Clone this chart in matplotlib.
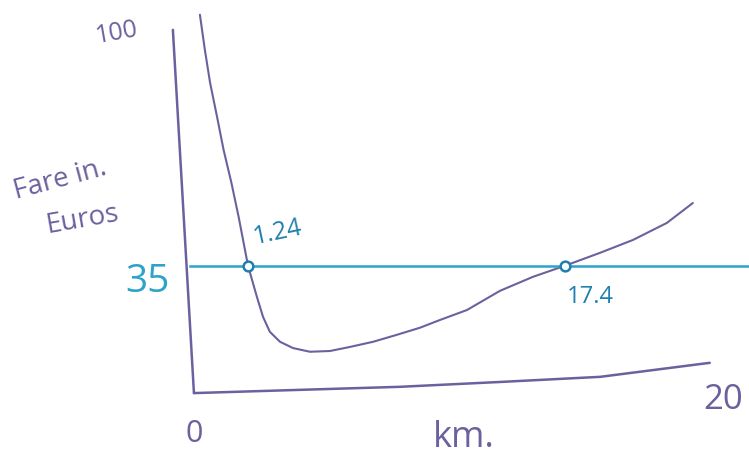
import matplotlib
matplotlib.use("Agg")
import matplotlib.pyplot as plt

# Hand-drawn sketch data (km, fare in euros)
curve_km = [0.19, 0.38, 0.58, 0.85, 1.10, 1.40, 1.68, 2.04, 2.38, 2.62, 2.88,
            3.27, 3.77, 4.42, 5.19, 5.96, 6.85, 7.77, 8.65, 9.42, 10.46, 11.73,
            13.0, 14.23, 15.58, 16.85, 18.15, 19.15]
curve_fare = [103.0, 93.5, 84.6, 75.3, 66.4, 57.5, 48.2, 35.0, 26.6, 21.1, 17.1,
              14.4, 12.7, 11.7, 11.9, 13.0, 14.4, 16.3, 18.2, 20.3, 23.0, 28.2,
              32.0, 35.0, 38.5, 42.0, 46.6, 52.0]

yaxis_km = [-0.85, -0.04]
yaxis_fare = [98.9, 0.5]
xaxis_km = [-0.04, 7.88, 11.7, 15.58, 19.8]
xaxis_fare = [0.5, 2.2, 3.5, 4.9, 8.7]

fare_level = 35
level_km = [-0.19, 21.3]

cross_km = [2.04, 14.23]
cross_labels = ["1.24", "17.4"]

purple = "#6b619f"
teal = "#2ea3c9"
teal_dark = "#1e80ae"

fig = plt.figure(figsize=(7.49, 4.61), dpi=100)
ax = fig.add_axes([0, 0, 1, 1])
ax.set_xlim(-7.5, 21.31)
ax.set_ylim(-17.9, 107.0)
ax.axis("off")

ax.plot(yaxis_km, yaxis_fare, color=purple, lw=1.8, solid_capstyle="round",
        solid_joinstyle="round")
ax.plot(xaxis_km, xaxis_fare, color=purple, lw=1.8, solid_capstyle="round",
        solid_joinstyle="round")
ax.plot(curve_km, curve_fare, color=purple, lw=1.5, solid_capstyle="round",
        solid_joinstyle="round")
ax.plot(level_km, [fare_level, fare_level], color=teal, lw=1.8)
ax.plot(cross_km, [fare_level] * len(cross_km), linestyle="none", marker="o",
        markersize=7, markerfacecolor="white", markeredgecolor=teal_dark,
        markeredgewidth=1.8)

font = "Open Sans"
ax.text(-3.0, 98.1, "100", color=purple, fontsize=18, rotation=10,
        ha="center", va="center", family=font)
ax.text(-5.19, 58.3, "Fare in.", color=purple, fontsize=20, rotation=15,
        ha="center", va="center", family=font)
ax.text(-4.35, 47.4, "Euros", color=purple, fontsize=20, rotation=10,
        ha="center", va="center", family=font)
ax.text(-1.81, 30.6, "35", color=teal, fontsize=28,
        ha="center", va="center", family=font)
ax.text(3.19, 43.9, cross_labels[0], color=teal_dark, fontsize=18, rotation=12,
        ha="center", va="center", family=font)
ax.text(15.19, 26.6, cross_labels[1], color=teal_dark, fontsize=17,
        ha="center", va="center", family=font)
ax.text(-0.04, -10.6, "0", color=purple, fontsize=22,
        ha="center", va="center", family=font)
ax.text(19.54, -1.4, "20", color=purple, fontsize=25,
        ha="left", va="center", family=font)
ax.text(9.15, -11.8, "km.", color=purple, fontsize=26,
        ha="left", va="center", family=font)

fig.savefig("out.png", dpi=100, facecolor="white")
